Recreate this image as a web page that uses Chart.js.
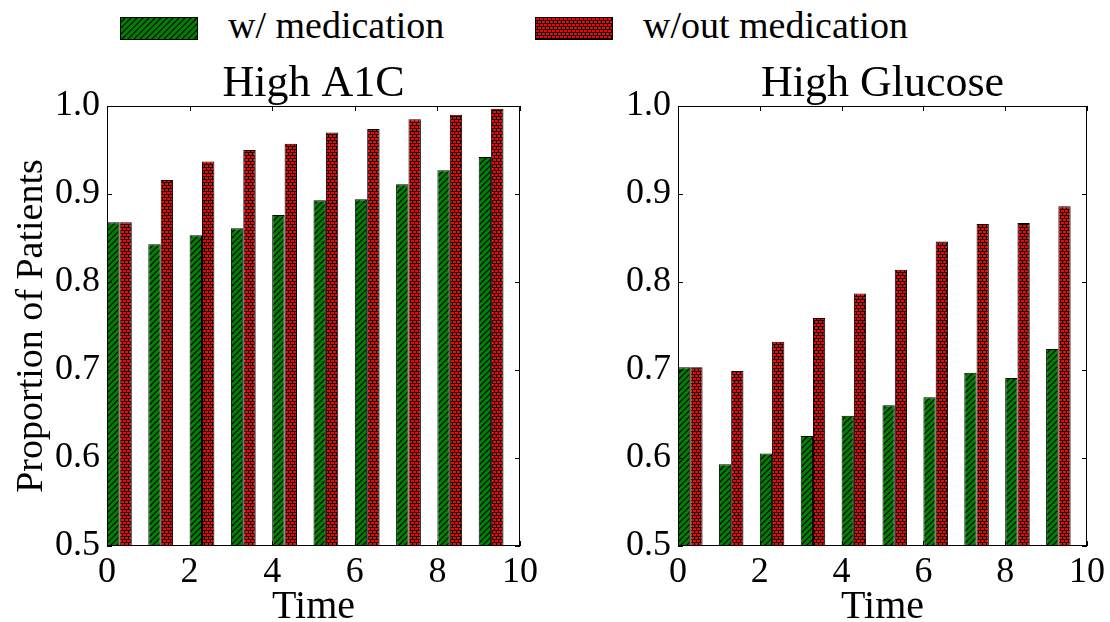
<!DOCTYPE html>
<html>
<head>
<meta charset="utf-8">
<script src="https://cdn.jsdelivr.net/npm/chart.js@4.4.1/dist/chart.umd.min.js"></script>
<style>
	body { margin: 0; background: #fff; }
	#page { position: relative; width: 1110px; height: 622px; overflow: hidden; font-family: 'Liberation Serif', serif; }
	.swatch { position: absolute; top: 17px; width: 78px; height: 23px; }
	.label { position: absolute; top: 6px; font-size: 38px; line-height: 1; color: #000; white-space: nowrap; }
	canvas.chart { position: absolute; top: 50px; }
</style>
</head>
<body>
<div id="page">
	<canvas class="swatch" id="sw_med" width="78" height="23" style="left:120px"></canvas>
	<div class="label" style="left:228px">w/ medication</div>
	<canvas class="swatch" id="sw_nomed" width="78" height="23" style="left:535px"></canvas>
	<div class="label" style="left:643px">w/out medication</div>

	<canvas class="chart" id="chart_a1c" width="560" height="572" style="left:0"></canvas>
	<canvas class="chart" id="chart_glu" width="540" height="572" style="left:570px"></canvas>
</div>
<script>
'use strict';

// data

const times = [0, 1, 2, 3, 4, 5, 6, 7, 8, 9];
const a1c_med = [0.868, 0.843, 0.853, 0.861, 0.876, 0.893, 0.894, 0.911, 0.927, 0.942];
const a1c_nomed = [0.868, 0.916, 0.937, 0.950, 0.957, 0.970, 0.974, 0.985, 0.990, 0.997];
const glu_med = [0.703, 0.593, 0.605, 0.625, 0.648, 0.660, 0.669, 0.697, 0.691, 0.724];
const glu_nomed = [0.703, 0.699, 0.732, 0.759, 0.787, 0.814, 0.846, 0.866, 0.867, 0.886];
const y_ticks = [0.5, 0.6, 0.7, 0.8, 0.9, 1.0];
const x_ticks = [0, 2, 4, 6, 8, 10];

const bar_width = 0.3; // each bar, in time units
const serif = "'Liberation Serif', 'DejaVu Serif', serif";

// hatch patterns

function hatchGreen() {
	const c = document.createElement('canvas');
	c.width = 6; c.height = 6;
	const g = c.getContext('2d');
	g.fillStyle = '#008000';
	g.fillRect(0, 0, 6, 6);
	g.strokeStyle = '#000';
	g.lineWidth = 1.2;
	g.beginPath();
	g.moveTo(-1, 7); g.lineTo(7, -1);
	g.moveTo(-4, 4); g.lineTo(4, -4);
	g.moveTo(2, 10); g.lineTo(10, 2);
	g.stroke();
	return g.createPattern(c, 'repeat');
}

function hatchRed() {
	const c = document.createElement('canvas');
	c.width = 8; c.height = 6;
	const g = c.getContext('2d');
	g.fillStyle = '#ff0000';
	g.fillRect(0, 0, 8, 6);
	g.fillStyle = '#000';
	g.fillRect(0, 0, 8, 1);
	g.fillRect(0, 3, 8, 1);
	g.fillRect(0, 0, 1, 3);
	g.fillRect(4, 0, 1, 3);
	g.fillRect(2, 3, 1, 3);
	g.fillRect(6, 3, 1, 3);
	return g.createPattern(c, 'repeat');
}

const green_fill = hatchGreen();
const red_fill = hatchRed();

// legend swatches

[['sw_med', green_fill], ['sw_nomed', red_fill]].forEach(([id, fill]) => {
	const g = document.getElementById(id).getContext('2d');
	g.fillStyle = fill;
	g.fillRect(0, 0, 78, 23);
	g.strokeStyle = '#000';
	g.lineWidth = 1;
	g.strokeRect(0.5, 0.5, 77, 22);
});

// frame with inward ticks on all four sides

const framePlugin = {
	id: 'frame',
	afterDatasetsDraw(chart) {
		const {ctx, chartArea: a, scales} = chart;
		ctx.save();
		ctx.strokeStyle = '#000';
		ctx.lineWidth = 1;
		ctx.strokeRect(a.left + 0.5, a.top + 0.5, a.right - a.left - 1, a.bottom - a.top - 1);
		ctx.beginPath();
		x_ticks.forEach(v => {
			const px = Math.round(scales.x.getPixelForValue(v)) + 0.5;
			ctx.moveTo(px, a.bottom); ctx.lineTo(px, a.bottom - 5);
			ctx.moveTo(px, a.top); ctx.lineTo(px, a.top + 5);
		});
		y_ticks.forEach(v => {
			const py = Math.round(scales.y.getPixelForValue(v)) + 0.5;
			ctx.moveTo(a.left, py); ctx.lineTo(a.left + 5, py);
			ctx.moveTo(a.right, py); ctx.lineTo(a.right - 5, py);
		});
		ctx.stroke();
		ctx.restore();
	}
};

function makeChart(id, title, med, nomed, yAxisWidth, rightPad, showYTitle) {
	const ctx = document.getElementById(id).getContext('2d');
	return new Chart(ctx, {
		type: 'bar',
		data: {
			datasets: [
				{
					label: 'w/ medication',
					data: times.map((t, i) => ({x: t + bar_width, y: med[i]})),
					backgroundColor: green_fill,
					borderColor: '#000',
					borderWidth: 1,
					borderSkipped: false
				},
				{
					label: 'w/out medication',
					data: times.map((t, i) => ({x: t + bar_width, y: nomed[i]})),
					backgroundColor: red_fill,
					borderColor: '#000',
					borderWidth: 1,
					borderSkipped: false
				}
			]
		},
		options: {
			responsive: false,
			animation: false,
			layout: { padding: { left: 0, right: rightPad, top: 0, bottom: 0 } },
			datasets: { bar: { categoryPercentage: 2 * bar_width, barPercentage: 1 } },
			plugins: {
				legend: { display: false },
				tooltip: { enabled: false },
				title: {
					display: true,
					text: title,
					fullSize: false,
					color: '#000',
					font: { family: serif, size: 44, weight: 'normal', lineHeight: 1 },
					padding: { top: 12, bottom: 0 }
				}
			},
			scales: {
				x: {
					type: 'linear',
					min: 0,
					max: 10,
					offset: false,
					grid: { display: false, drawTicks: false, offset: false },
					border: { display: false },
					afterFit: s => { s.height = 76; },
					afterBuildTicks: s => { s.ticks = x_ticks.map(v => ({value: v})); },
					ticks: {
						color: '#000',
						padding: 5,
						maxRotation: 0,
						font: { family: serif, size: 36 },
						callback: v => String(v)
					},
					title: {
						display: true,
						text: 'Time',
						color: '#000',
						font: { family: serif, size: 40, lineHeight: 0.8 },
						padding: { top: 0, bottom: -1 }
					}
				},
				y: {
					min: 0.5,
					max: 1.0,
					grid: { display: false, drawTicks: false },
					border: { display: false },
					afterFit: s => { s.width = yAxisWidth; },
					afterBuildTicks: s => { s.ticks = y_ticks.map(v => ({value: v})); },
					ticks: {
						color: '#000',
						padding: 7,
						font: { family: serif, size: 36 },
						callback: v => v.toFixed(1)
					},
					title: {
						display: showYTitle,
						text: 'Proportion of Patients',
						color: '#000',
						font: { family: serif, size: 38, lineHeight: 1.2 },
						padding: { top: 9, bottom: 0 }
					}
				}
			}
		},
		plugins: [framePlugin]
	});
}

makeChart('chart_a1c', 'High A1C', a1c_med, a1c_nomed, 107, 40, true);
makeChart('chart_glu', 'High Glucose', glu_med, glu_nomed, 108, 20, false);
</script>
</body>
</html>
